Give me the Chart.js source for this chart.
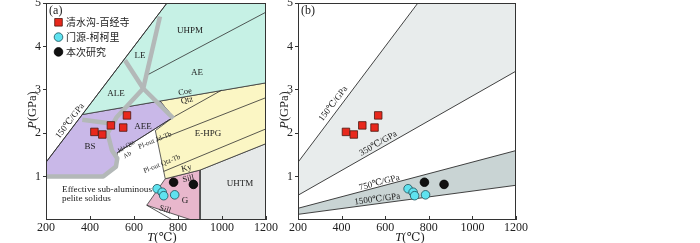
<!DOCTYPE html>
<html><head><meta charset="utf-8">
<script src="https://cdn.jsdelivr.net/npm/chart.js@4/dist/chart.umd.min.js"></script>
<style>
html,body{margin:0;padding:0;background:#fff;}
#wrap{position:relative;width:700px;height:243px;overflow:hidden;background:#fff;}
canvas{position:absolute;}
.ttl{position:absolute;font-family:'Liberation Serif','DejaVu Serif','Noto Sans CJK SC',serif;font-size:12.5px;color:#222;white-space:nowrap;line-height:1;}
</style></head><body>
<div id="wrap">
<canvas id="ca" style="left:0;top:-8px;width:280px;height:251px" width="280" height="251"></canvas>
<canvas id="cb" style="left:252px;top:-8px;width:280px;height:251px" width="280" height="251"></canvas>
<div class="ttl" style="left:32px;top:110px;transform:translate(-50%,-50%) rotate(-90deg)"><i>P</i>(GPa)</div>
<div class="ttl" style="left:284px;top:110px;transform:translate(-50%,-50%) rotate(-90deg)"><i>P</i>(GPa)</div>
<div class="ttl" style="left:162px;top:237px;transform:translate(-50%,-50%)"><i>T</i>(℃)</div>
<div class="ttl" style="left:410px;top:237px;transform:translate(-50%,-50%)"><i>T</i>(℃)</div>
</div>
<script>
// ---------------- DATA ----------------
const tempTicks = [200, 400, 600, 800, 1000, 1200];
const pressTicks = [1, 2, 3, 4, 5];

// 清水沟-百经寺 (red squares)
const qsgT = [420, 456, 495, 551, 568];
const qsgP = [2.03, 1.97, 2.18, 2.13, 2.41];
// 门源-柯柯里 (cyan circles)
const mykT = [705, 728, 735, 785];
const mykP = [0.72, 0.64, 0.56, 0.58];
// 本次研究 (black circles)
const thisT = [780, 870];
const thisP = [0.87, 0.82];

// panel (a) metamorphic fields, [T, P]
const fieldTeal   = [[365,2.43],[750,5],[1200,5],[1200,3.16],[718,2.74]];
const fieldPurple = [[200,1.33],[365,2.43],[718,2.74],[779,2.37],[524,1.55],[520,1.25],[460,1.0],[200,1.0]];
const fieldYellow = [[718,2.74],[1200,3.16],[1200,1.76],[900,1.15],[742,0.95],[697,2.06],[779,2.37]];
const fieldPink   = [[742,0.95],[900,1.15],[900,0],[862,0],[658,0.34]];
const fieldUHTM   = [[900,1.15],[1200,1.76],[1200,0],[900,0]];

// panel (a) thin reaction lines
const line150    = [[200,1.33],[750,5]];
const lineUhpmAe = [[656,3.33],[1200,4.79]];
const lineJdQtz  = [[998,2.99],[779,2.37],[524,1.55]];
const linePlJd   = [[703,1.83],[1200,2.82]];
const linePlQtz  = [[735,1.12],[1200,2.10]];
const lineSillLo = [[658,0.34],[775,0]];

// panel (a) grey facies boundaries
const grayA = [[718,4.69],[642,3.03]];
const grayB = [[559,3.68],[642,3.03],[779,2.34]];
const grayC = [[642,3.03],[520,2.36],[480,2.0],[500,1.6],[524,1.42],[518,1.23],[460,1.0],[200,1.0]];
const grayD = [[365,2.31],[504,2.22]];

// panel (b) geotherm bands
const bandHigh = [[200,1.33],[750,5],[1200,5],[1200,3.43],[200,0.57]];
const bandLow  = [[200,0.27],[1200,1.60],[1200,0.80],[200,0.13]];
const grad150  = [[200,1.33],[750,5]];
const grad350  = [[200,0.57],[1200,3.43]];
const grad750  = [[200,0.27],[1200,1.60]];
const grad1500 = [[200,0.13],[1200,0.80]];

// ---------------- helpers ----------------
const SERIF = "'Liberation Serif','DejaVu Serif','Noto Sans CJK SC',serif";
Chart.defaults.font.family = SERIF;
Chart.defaults.color = '#222';

function xy(pts){ return pts.map(p => ({x:p[0], y:p[1]})); }
function poly(pts, color){
  const d = xy(pts); d.push({x:pts[0][0], y:pts[0][1]});
  return {data:d, fill:'shape', backgroundColor:color, borderColor:'#3a3a3a', borderWidth:0.8,
          pointRadius:0, tension:0, order:5};
}
function line(pts, color, width, order){
  return {data:xy(pts), fill:false, borderColor:color, borderWidth:width, pointRadius:0,
          tension:0, order:order, borderJoinStyle:'round', borderCapStyle:'butt'};
}
function marks(T, P, style, r, bg, bd){
  return {data:T.map((t,i)=>({x:t, y:P[i]})), showLine:false, pointStyle:style, pointRadius:r,
          backgroundColor:bg, borderColor:bd, borderWidth:0.8, order:1};
}
const RED = ['#e8281c', '#4a1810'];
const CYAN = ['#5fe2ef', '#1d4f58'];
const BLACK = ['#111111', '#000000'];

function markerSets(){
  return [
    marks(qsgT, qsgP, 'rect', 5.3, RED[0], RED[1]),
    marks(mykT, mykP, 'circle', 4.3, CYAN[0], CYAN[1]),
    marks(thisT, thisP, 'circle', 4.3, BLACK[0], BLACK[1])
  ];
}

const framePlugin = {
  id:'frame',
  afterDraw(chart){
    const {ctx, chartArea:a, scales:{x}} = chart;
    ctx.save();
    ctx.strokeStyle = '#333'; ctx.lineWidth = 1;
    ctx.strokeRect(Math.round(a.left)+0.5, Math.round(a.top)+0.5, Math.round(a.right-a.left)-1, Math.round(a.bottom-a.top)-1);
    ctx.beginPath();
    tempTicks.forEach(v => {
      const px = Math.round(x.getPixelForValue(v)) + 0.5;
      ctx.moveTo(px, a.bottom); ctx.lineTo(px, a.bottom - 4);
    });
    ctx.stroke();
    ctx.restore();
  }
};
function labelPlugin(items){
  return {
    id:'txtlabels',
    afterDatasetsDraw(chart){
      const {ctx, scales:{x, y}} = chart;
      items.forEach(it => {
        ctx.save();
        ctx.translate(x.getPixelForValue(it.T), y.getPixelForValue(it.P));
        ctx.rotate((it.rot || 0) * Math.PI / 180);
        ctx.font = (it.size || 9) + 'px ' + SERIF;
        ctx.fillStyle = '#222';
        ctx.textAlign = it.align || 'center';
        ctx.textBaseline = 'middle';
        ctx.fillText(it.text, 0, 0);
        ctx.restore();
      });
    }
  };
}
const legendItems = [
  {text:'清水沟-百经寺', style:'rect', c:RED},
  {text:'门源-柯柯里', style:'circle', c:CYAN},
  {text:'本次研究', style:'circle', c:BLACK}
];
const legendPlugin = {
  id:'legendA',
  afterDraw(chart){
    const {ctx, chartArea:a} = chart;
    legendItems.forEach((it, i) => {
      const cx = a.left + 12.5, cy = a.top + 19.3 + i * 14.8;
      ctx.save();
      ctx.fillStyle = it.c[0]; ctx.strokeStyle = it.c[1]; ctx.lineWidth = 0.8;
      ctx.beginPath();
      if (it.style === 'rect') ctx.rect(cx - 3.8, cy - 3.8, 7.6, 7.6);
      else ctx.arc(cx, cy, 4.3, 0, Math.PI * 2);
      ctx.fill(); ctx.stroke();
      ctx.font = "10px 'Noto Sans CJK SC', sans-serif";
      ctx.fillStyle = '#222'; ctx.textAlign = 'left'; ctx.textBaseline = 'middle';
      ctx.fillText(it.text, a.left + 20, cy);
      ctx.restore();
    });
  }
};

function makeChart(id, datasets, labels, extra, padRight){
  return new Chart(document.getElementById(id), {
    type:'line',
    data:{datasets:datasets},
    options:{
      responsive:false, animation:false, events:[],
      layout:{padding:{top:11, right:padRight, bottom:0, left:0}},
      plugins:{legend:{display:false}, tooltip:{enabled:false}},
      scales:{
        x:{type:'linear', min:200, max:1200,
           afterFit(s){ s.height = 23; },
           afterBuildTicks(s){ s.ticks = tempTicks.map(v => ({value:v})); },
           ticks:{padding:1, color:'#222', font:{size:12}, maxRotation:0, callback:v => String(v)},
           grid:{display:false, drawTicks:false, tickLength:0}, border:{display:false}},
        y:{type:'linear', min:0, max:5,
           afterFit(s){ s.width = 46; },
           afterBuildTicks(s){ s.ticks = pressTicks.map(v => ({value:v})); },
           ticks:{padding:2, color:'#222', font:{size:12}, callback:v => String(v)},
           grid:{drawOnChartArea:false, drawTicks:true, tickLength:3, color:'#333'},
           border:{display:false}}
      }
    },
    plugins:[framePlugin, labelPlugin(labels)].concat(extra)
  });
}

// ---------------- panel (a) ----------------
const GRAY = '#b3b8b8';
const THIN = '#2e2e2e';
const datasetsA = markerSets().concat([
  line(grayA, GRAY, 4.5, 3), line(grayB, GRAY, 4.5, 3), line(grayC, GRAY, 4.5, 3), line(grayD, GRAY, 4.5, 3),
  line(line150, THIN, 0.9, 4), line(lineUhpmAe, THIN, 0.8, 4), line(lineJdQtz, THIN, 0.8, 4),
  line(linePlJd, THIN, 0.8, 4), line(linePlQtz, THIN, 0.8, 4), line(lineSillLo, THIN, 0.8, 4),
  poly(fieldTeal, '#c6f1e5'), poly(fieldPurple, '#c9b8e8'), poly(fieldYellow, '#fbf6c4'),
  poly(fieldPink, '#e8b7cc'), poly(fieldUHTM, '#e6e9e9')
]);
const labelsA = [
  {text:'(a)', T:214, P:4.83, size:12, align:'left'},
  {text:'UHPM', T:854, P:4.37},
  {text:'LE', T:627, P:3.79},
  {text:'AE', T:886, P:3.40},
  {text:'ALE', T:518, P:2.92},
  {text:'Coe', T:832, P:2.95, size:8.5, rot:-10},
  {text:'Qtz', T:841, P:2.76, size:8.5, rot:-12},
  {text:'AEE', T:641, P:2.16},
  {text:'BS', T:400, P:1.68},
  {text:'E-HPG', T:936, P:1.98},
  {text:'UHTM', T:1082, P:0.83},
  {text:'Jd+Qtz', T:564, P:1.69, size:6.5, rot:-31},
  {text:'Ab', T:570, P:1.50, size:6.5, rot:-31},
  {text:'Pl-out Jd-Tb', T:695, P:1.83, size:7, rot:-22},
  {text:'Pl-out Qtz-Tb', T:727, P:1.29, size:7, rot:-22},
  {text:'Ky', T:839, P:1.19, size:8.5, rot:-14},
  {text:'Sill', T:847, P:0.95, size:8.5, rot:-14},
  {text:'G', T:832, P:0.44},
  {text:'Sill', T:741, P:0.24, size:8.5, rot:18},
  {text:'Effective sub-aluminous', T:273, P:0.70, size:9.2, align:'left'},
  {text:'pelite solidus', T:273, P:0.49, size:9.2, align:'left'},
  {text:'150℃/GPa', T:309, P:2.28, size:9, rot:-52.7}
];
makeChart('ca', datasetsA, labelsA, [legendPlugin], 14);

// ---------------- panel (b) ----------------
const datasetsB = markerSets().concat([
  line(grad150, THIN, 0.9, 4), line(grad350, THIN, 0.9, 4), line(grad750, THIN, 0.9, 4), line(grad1500, THIN, 0.9, 4),
  Object.assign(poly(bandHigh, '#e8ecec'), {borderWidth:0}),
  Object.assign(poly(bandLow, '#c9d4d4'), {borderWidth:0})
]);
const labelsB = [
  {text:'(b)', T:214, P:4.83, size:12, align:'left'},
  {text:'150℃/GPa', T:362, P:2.68, size:9, rot:-52.7},
  {text:'350℃/GPa', T:568, P:1.76, size:9, rot:-29.7},
  {text:'750℃/GPa', T:573, P:0.86, size:9, rot:-14.9},
  {text:'1500℃/GPa', T:564, P:0.48, size:9, rot:-7.6}
];
makeChart('cb', datasetsB, labelsB, [], 16);
</script>
</body></html>
